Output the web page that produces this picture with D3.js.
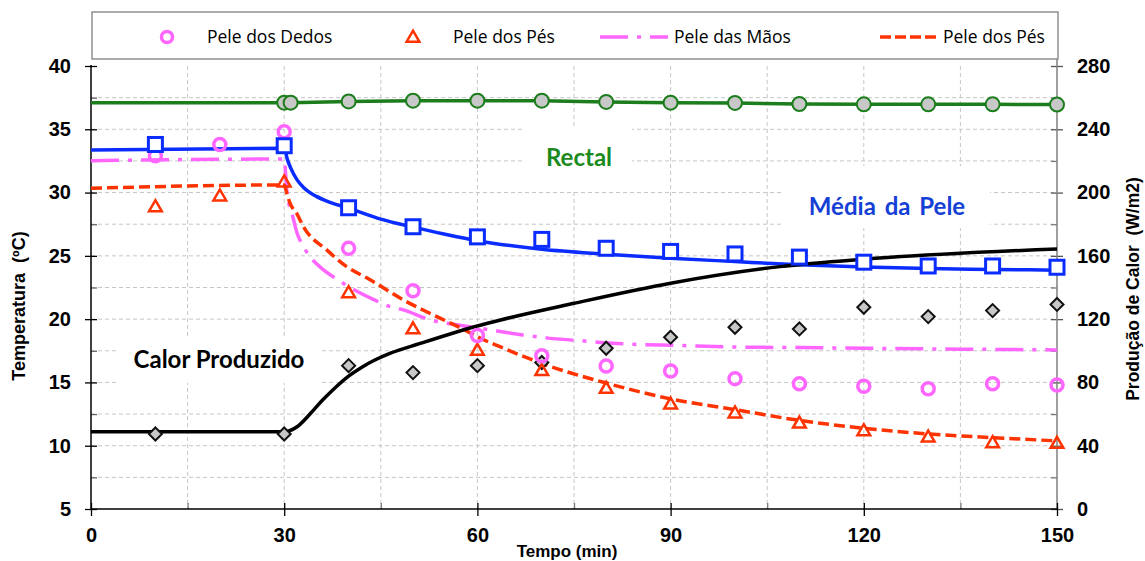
<!DOCTYPE html>
<html>
<head>
<meta charset="utf-8">
<script src="https://cdn.jsdelivr.net/npm/d3@7"></script>
<style>
  body { margin: 0; background: #fff; }
  svg { display: block; }
  .tick text { font-family: "Liberation Sans", Arial, sans-serif; font-weight: bold; font-size: 20px; fill: #000; }
</style>
</head>
<body>
<svg id="chart" width="1145" height="561"></svg>
<script>
// ---- measured points (temperature in ºC, heat in W/m2) ----
const tSkin = [10, 20, 30, 40, 50, 60, 70, 80, 90, 100, 110, 120, 130, 140, 150];
const dedos = [32.9, 33.8, 34.8, 25.6, 22.25, 18.7, 17.1, 16.3, 15.9, 15.3, 14.9, 14.7, 14.5, 14.9, 14.8];
const pesPts = [28.9, 29.75, 30.85, 22.1, 19.25, 17.55, 15.95, 14.55, 13.3, 12.6, 11.8, 11.2, 10.7, 10.25, 10.2];

const tMedia = [10, 30, 40, 50, 60, 70, 80, 90, 100, 110, 120, 130, 140, 150];
const mediaPts = [33.8, 33.7, 28.8, 27.3, 26.5, 26.3, 25.6, 25.35, 25.15, 24.9, 24.5, 24.2, 24.2, 24.1];

const tRectal = [30, 31, 40, 50, 60, 70, 80, 90, 100, 110, 120, 130, 140, 150];
const rectal = [37.1, 37.1, 37.2, 37.26, 37.26, 37.26, 37.16, 37.1, 37.08, 37.0, 36.97, 36.97, 36.97, 36.95];
const rectalStart = 37.1; // baseline value before the exposure (t = 0)

const tCalor = [10, 30, 40, 50, 60, 70, 80, 90, 100, 110, 120, 130, 140, 150];
const calorPts = [47.4, 47.4, 90.6, 86.2, 90.6, 92.6, 101.6, 108.6, 114.9, 113.8, 127.5, 121.6, 125.4, 129.3];

// ---- fitted curves ----
const tMediaFit = [0, 30, 30.5, 31, 32, 33, 35, 37, 40, 45, 50, 55, 60, 70, 80, 90, 100, 110, 120, 130, 140, 150];
const mediaFit = [33.37, 33.5, 32.6, 31.95, 31.0, 30.4, 29.7, 29.25, 28.77, 27.9, 27.27, 26.71, 26.2, 25.52, 25.13, 24.81, 24.55, 24.3, 24.12, 24.0, 23.93, 23.87];

const tMaosFit = [0, 30, 30.4, 31.4, 32, 33, 36.1, 38, 40, 44, 46, 48.5, 52.7, 57, 62, 67, 71, 76, 81, 85, 90, 100, 110, 120, 135, 150];
const maosFit = [32.52, 32.65, 30.2, 27.97, 26.8, 25.73, 23.89, 23.23, 22.57, 21.52, 21.07, 20.73, 19.94, 19.54, 19.15, 18.75, 18.5, 18.3, 18.1, 18.0, 17.94, 17.8, 17.75, 17.7, 17.63, 17.57];

const tPesFit = [0, 30, 30.4, 30.9, 32, 33, 36.6, 39.7, 43.4, 48.5, 53.7, 58, 60, 63.6, 70, 80, 90, 100, 110, 120, 130, 140, 150];
const pesFit = [30.34, 30.6, 29.94, 29.16, 28.3, 27.3, 25.47, 24.15, 23.1, 21.52, 20.2, 19.15, 18.6, 17.8, 16.5, 14.95, 13.7, 12.85, 12.0, 11.38, 10.93, 10.64, 10.38];

const tCalorFit = [0, 30, 32, 34, 36, 38, 40, 42, 44, 46.5, 51, 60, 63.6, 75, 90, 107, 120, 150];
const calorFit = [48.8, 48.8, 52, 60, 69, 77, 84, 89.5, 94, 98.5, 104.5, 115.7, 119.5, 130, 142.7, 153.2, 157.9, 164.4];

// ---- axis ticks ----
const xTicks = [0, 30, 60, 90, 120, 150];
const xMinor = [15, 45, 75, 105, 135];
const yTicks = [5, 10, 15, 20, 25, 30, 35, 40];
const yMinor = [7.5, 12.5, 17.5, 22.5, 27.5, 32.5, 37.5];
const y2Ticks = [0, 40, 80, 120, 160, 200, 240, 280];
const y2Minor = [20, 60, 100, 140, 180, 220, 260];
const hGrid = [7.5, 10, 12.5, 15, 17.5, 20, 22.5, 25, 27.5, 30, 32.5, 35, 37.5];
const vGrid = [15, 30, 45, 60, 75, 90, 105, 120, 135];

// ---- colours ----
const C = {
  green: "#1b7d1b", blue: "#0a2cff", pink: "#ff66ff", red: "#ff3300",
  black: "#000", grid: "#c6c6c6", markerFill: "#c8c8c8"
};

const svg = d3.select("#chart");
const L = 91, R = 1057, T = 66, B = 509;

const x = d3.scaleLinear().domain([0, 150]).range([L, R]);
const y = d3.scaleLinear().domain([5, 40]).range([B, T]);
const y2 = d3.scaleLinear().domain([0, 280]).range([B, T]);

// grid
const grid = svg.append("g").attr("stroke", C.grid).attr("stroke-width", 1).attr("stroke-dasharray", "4,3");
grid.selectAll("line.h").data(hGrid).join("line").attr("class", "h")
  .attr("x1", L).attr("x2", R).attr("y1", d => y(d)).attr("y2", d => y(d));
grid.selectAll("line.v").data(vGrid).join("line").attr("class", "v")
  .attr("y1", T).attr("y2", B).attr("x1", d => x(d)).attr("x2", d => x(d));

// text boxes (white background hides grid)
const notes = [
  { text: "Rectal", cx: 579, base: 166, color: "#1c8a1c", box: [525, 128, 107, 64], ws: 0 },
  { text: "Média da Pele", cx: 887, base: 215, color: "#1440d6", box: [783, 166, 207, 62], ws: 3 },
  { text: "Calor Produzido", cx: 219, base: 368, color: "#000", box: [117, 337, 205, 46], ws: 0 }
];
svg.append("g").selectAll("rect").data(notes).join("rect")
  .attr("x", d => d.box[0]).attr("y", d => d.box[1])
  .attr("width", d => d.box[2]).attr("height", d => d.box[3]).attr("fill", "#fff");

// axes
function styleAxis(g, color) {
  g.select(".domain").remove();
  g.selectAll(".tick line").attr("stroke", color).attr("stroke-width", 1.3);
}
// left
svg.append("g").attr("transform", `translate(${L},0)`)
  .call(d3.axisLeft(y).tickValues(yMinor).tickSize(-6).tickFormat(""))
  .call(g => styleAxis(g, "#666"));
const gl = svg.append("g").attr("transform", `translate(${L},0)`)
  .call(d3.axisLeft(y).tickValues(yTicks).tickSize(6).tickPadding(14).tickFormat(d3.format("d")))
  .call(g => styleAxis(g, "#000"));
gl.selectAll(".tick line").attr("x1", 6);
svg.append("line").attr("x1", L).attr("x2", L).attr("y1", T - 1).attr("y2", B)
  .attr("stroke", "#000").attr("stroke-width", 1.5);

// right
svg.append("g").attr("transform", `translate(${R},0)`)
  .call(d3.axisRight(y2).tickValues(y2Minor).tickSize(-6).tickFormat(""))
  .call(g => styleAxis(g, "#777"));
const gr = svg.append("g").attr("transform", `translate(${R},0)`)
  .call(d3.axisRight(y2).tickValues(y2Ticks).tickSize(6).tickPadding(14).tickFormat(d3.format("d")))
  .call(g => styleAxis(g, "#555"));
gr.selectAll(".tick line").attr("x1", -6);
svg.append("line").attr("x1", R).attr("x2", R).attr("y1", 16).attr("y2", B)
  .attr("stroke", "#7f7f7f").attr("stroke-width", 1.5);

// bottom
svg.append("g").attr("transform", `translate(0,${B})`)
  .call(d3.axisBottom(x).tickValues(xMinor).tickSize(-6).tickFormat(""))
  .call(g => styleAxis(g, "#777"));
const gb = svg.append("g").attr("transform", `translate(0,${B})`)
  .call(d3.axisBottom(x).tickValues(xTicks).tickSize(7).tickPadding(12).tickFormat(d3.format("d")))
  .call(g => styleAxis(g, "#000"));
gb.selectAll(".tick line").attr("y1", -6);
svg.append("line").attr("x1", L).attr("x2", R).attr("y1", B).attr("y2", B)
  .attr("stroke", "#000").attr("stroke-width", 1.5);

// axis titles
const titleFont = "'Liberation Sans', Arial, sans-serif";
svg.append("text").attr("transform", "translate(25,306) rotate(-90)")
  .attr("text-anchor", "middle").attr("font-family", titleFont).attr("font-weight", "bold")
  .attr("font-size", 18).attr("xml:space", "preserve").text("Temperatura  (ºC)");
svg.append("text").attr("transform", "translate(1139,289) rotate(-90)")
  .attr("text-anchor", "middle").attr("font-family", titleFont).attr("font-weight", "bold")
  .attr("font-size", 17.5).attr("xml:space", "preserve").text("Produção de Calor  (W/m2)");
svg.append("text").attr("x", 567).attr("y", 557)
  .attr("text-anchor", "middle").attr("font-family", titleFont).attr("font-weight", "bold")
  .attr("font-size", 17).text("Tempo (min)");

// lines
const zip = (ts, vs) => ts.map((t, i) => [t, vs[i]]);
const lineT = d3.line().x(d => x(d[0])).y(d => y(d[1])).curve(d3.curveMonotoneX);
const lineW = d3.line().x(d => x(d[0])).y(d => y2(d[1])).curve(d3.curveMonotoneX);
const lineLin = d3.line().x(d => x(d[0])).y(d => y(d[1]));

const lines = svg.append("g").attr("fill", "none").attr("stroke-width", 3.5);
lines.append("path").attr("d", lineT(zip(tMaosFit, maosFit)))
  .attr("stroke", C.pink).attr("stroke-dasharray", "28,9,4,9");
lines.append("path").attr("d", lineT(zip(tPesFit, pesFit)))
  .attr("stroke", C.red).attr("stroke-dasharray", "11,5");
lines.append("path").attr("d", lineT(zip(tMediaFit, mediaFit))).attr("stroke", C.blue);
lines.append("path").attr("d", lineW(zip(tCalorFit, calorFit))).attr("stroke", C.black);
lines.append("path").attr("d", lineLin([[0, rectalStart]].concat(zip(tRectal, rectal))))
  .attr("stroke", C.green);

// markers
const tri = d3.symbol().type(d3.symbolTriangle).size(70);
const diamond = "M0,-6.5L6.5,0L0,6.5L-6.5,0Z";

svg.append("g").selectAll("path").data(zip(tCalor, calorPts)).join("path")
  .attr("transform", d => `translate(${x(d[0])},${y2(d[1])})`).attr("d", diamond)
  .attr("fill", C.markerFill).attr("stroke", "#111").attr("stroke-width", 2);

svg.append("g").selectAll("path").data(zip(tSkin, pesPts)).join("path")
  .attr("transform", d => `translate(${x(d[0])},${y(d[1]) + 1})`).attr("d", tri)
  .attr("fill", "none").attr("stroke", C.red).attr("stroke-width", 2.5);

svg.append("g").selectAll("circle").data(zip(tSkin, dedos)).join("circle")
  .attr("cx", d => x(d[0])).attr("cy", d => y(d[1])).attr("r", 6)
  .attr("fill", "none").attr("stroke", C.pink).attr("stroke-width", 3.5);

svg.append("g").selectAll("rect").data(zip(tMedia, mediaPts)).join("rect")
  .attr("x", d => x(d[0]) - 7).attr("y", d => y(d[1]) - 7).attr("width", 14).attr("height", 14)
  .attr("fill", "#fff").attr("stroke", C.blue).attr("stroke-width", 3);

svg.append("g").selectAll("circle").data(zip(tRectal, rectal)).join("circle")
  .attr("cx", d => x(d[0])).attr("cy", d => y(d[1])).attr("r", 7)
  .attr("fill", C.markerFill).attr("stroke", C.green).attr("stroke-width", 2);

// annotation labels
svg.append("g").selectAll("text").data(notes).join("text")
  .attr("x", d => d.cx).attr("y", d => d.base).attr("text-anchor", "middle")
  .attr("font-family", "Lato, 'Open Sans', sans-serif").attr("font-weight", "bold")
  .attr("font-size", 24).attr("word-spacing", d => d.ws).attr("fill", d => d.color)
  .text(d => d.text);

// legend
const lg = svg.append("g");
lg.append("rect").attr("x", 92).attr("y", 12).attr("width", 966).attr("height", 47)
  .attr("fill", "#fff").attr("stroke", "#808080").attr("stroke-width", 1.3);
const ly = 37;
lg.append("circle").attr("cx", 167).attr("cy", ly).attr("r", 5.5)
  .attr("fill", "none").attr("stroke", C.pink).attr("stroke-width", 3.5);
lg.append("path").attr("transform", `translate(413,${ly + 1})`).attr("d", tri)
  .attr("fill", "none").attr("stroke", C.red).attr("stroke-width", 2.5);
lg.append("line").attr("x1", 600).attr("x2", 668).attr("y1", ly).attr("y2", ly)
  .attr("stroke", C.pink).attr("stroke-width", 3.5).attr("stroke-dasharray", "28,9,4,9");
lg.append("line").attr("x1", 880).attr("x2", 938).attr("y1", ly).attr("y2", ly)
  .attr("stroke", C.red).attr("stroke-width", 3.5).attr("stroke-dasharray", "11,4");
const legendItems = [
  { label: "Pele dos Dedos", x: 207 },
  { label: "Pele dos Pés", x: 453 },
  { label: "Pele das Mãos", x: 674 },
  { label: "Pele dos Pés", x: 943 }
];
lg.selectAll("text").data(legendItems).join("text")
  .attr("x", d => d.x).attr("y", ly).attr("dy", "0.35em")
  .attr("font-family", "'Open Sans', sans-serif").attr("font-size", 17.5).attr("fill", "#000")
  .text(d => d.label);
</script>
</body>
</html>
